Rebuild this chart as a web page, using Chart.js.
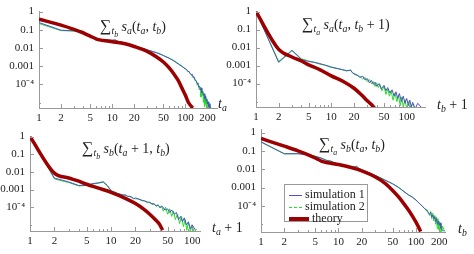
<!DOCTYPE html>
<html>
<head>
<meta charset="utf-8">
<script src="https://cdn.jsdelivr.net/npm/chart.js@4.4.1/dist/chart.umd.min.js"></script>
<style>
body{margin:0;width:474px;height:254px;background:#fff;position:relative;overflow:hidden;font-family:'Liberation Serif',serif;color:#222}
canvas{position:absolute}
.t{position:absolute;white-space:nowrap;font-size:14px;line-height:16px}
.t i{font-style:italic}
.t sub{font-size:70%;vertical-align:-0.35em;line-height:0}
.t sub sub{font-size:80%}
.sum{font-size:16px}
.legend{position:absolute;left:284px;top:184px;width:82px;height:36px;border:1px solid #999;background:#fff;font-size:12px;line-height:12px}
.row{position:absolute;left:4px;white-space:nowrap}
.row span{display:inline-block;vertical-align:middle;margin-right:3px;height:0}
</style>
</head>
<body>
<canvas id="c1" width="237" height="127" style="left:0;top:0"></canvas>
<canvas id="c2" width="259" height="127" style="left:215px;top:0"></canvas>
<canvas id="c3" width="237" height="129" style="left:0;top:125px"></canvas>
<canvas id="c4" width="259" height="136" style="left:215px;top:118px"></canvas>

<div class="t" style="left:100px;top:18px"><span class="sum">∑</span><sub><i>t</i><sub><i>b</i></sub></sub> <i>s</i><sub><i>a</i></sub>(<i>t</i><sub><i>a</i></sub>, <i>t</i><sub><i>b</i></sub>)</div>
<div class="t" style="left:302px;top:16px"><span class="sum">∑</span><sub><i>t</i><sub><i>a</i></sub></sub> <i>s</i><sub><i>a</i></sub>(<i>t</i><sub><i>a</i></sub>, <i>t</i><sub><i>b</i></sub> + 1)</div>
<div class="t" style="left:82px;top:140px"><span class="sum">∑</span><sub><i>t</i><sub><i>b</i></sub></sub> <i>s</i><sub><i>b</i></sub>(<i>t</i><sub><i>a</i></sub> + 1, <i>t</i><sub><i>b</i></sub>)</div>
<div class="t" style="left:319px;top:136px"><span class="sum">∑</span><sub><i>t</i><sub><i>a</i></sub></sub> <i>s</i><sub><i>b</i></sub>(<i>t</i><sub><i>a</i></sub>, <i>t</i><sub><i>b</i></sub>)</div>

<div class="t" style="left:218px;top:96px"><i>t</i><sub><i>a</i></sub></div>
<div class="t" style="left:437px;top:97px"><i>t</i><sub><i>b</i></sub> + 1</div>
<div class="t" style="left:212px;top:220px"><i>t</i><sub><i>a</i></sub> + 1</div>
<div class="t" style="left:458px;top:221px"><i>t</i><sub><i>b</i></sub></div>

<div class="legend">
  <div class="row" style="top:3px"><span style="width:13px;border-top:1px solid #5050c8"></span>simulation 1</div>
  <div class="row" style="top:15px"><span style="width:13px;border-top:1px dashed #22e022"></span>simulation 2</div>
  <div class="row" style="top:27px"><span style="width:20px;border-top:4px solid #9c0000"></span>theory</div>
</div>

<script>
// tick values and labels
var yTicks = [1, 0.1, 0.01, 0.001, 0.0001];
var yLabels = ['1', '0.1', '0.01', '0.001', '10\u207B\u2074'];
var yMinor = [0.00001];
var xTicksA = [1, 2, 5, 10, 20, 50, 100, 200];
var xTicksB = [1, 2, 5, 10, 20, 50, 100];
var xMinor = [3, 4, 6, 7, 8, 9, 30, 40, 60, 70, 80, 90];

// panel 1: sum_tb s_a(ta, tb)
var p1TheoryX = [1, 2, 3, 4, 5, 6, 7, 8, 10, 15, 20, 30, 40, 50, 60, 70, 80, 90, 100, 110, 126];
var p1TheoryY = [0.38, 0.18, 0.105, 0.068, 0.045, 0.032, 0.027, 0.025, 0.022, 0.017, 0.012, 0.0065, 0.0033, 0.0017, 0.0008, 0.00036, 0.00016, 0.00006, 0.000025, 0.00001, 0.000005];
var p1Sim1X = [1, 2, 3, 4, 5, 6, 7, 8, 9, 10, 11, 12, 14, 16, 18, 20, 25, 30, 35, 40, 45, 50, 60, 70, 80, 90, 100, 104, 108, 112, 116, 120, 124, 128, 132, 136, 140, 144, 148, 152, 156, 160, 164, 168, 172, 176, 180, 184, 188, 192, 196, 200, 204, 208, 212, 216, 220];
var p1Sim1Y = [0.25, 0.095, 0.088, 0.082, 0.045, 0.033, 0.029, 0.028, 0.027, 0.027, 0.028, 0.023, 0.020, 0.017, 0.015, 0.013, 0.0098, 0.0078, 0.0065, 0.0055, 0.0046, 0.0038, 0.0027, 0.0019, 0.0013, 0.00095, 0.0007, 0.00065, 0.0005, 0.00052, 0.00038, 0.00034, 0.00036, 0.00024, 0.00025, 0.00017, 0.00016, 0.00012, 0.00011, 0.00007, 0.00008, 0.00005, 0.00006, 0.000035, 0.00004, 0.000025, 0.00003, 0.000016, 0.000022, 0.000012, 0.000015, 0.000008, 0.000011, 0.000006, 0.000008, 0.000004, 0.000005];
var p1Sim2X = [1, 2, 3, 4, 5, 6, 7, 8, 9, 10, 11, 12, 14, 16, 18, 20, 25, 30, 35, 40, 45, 50, 60, 70, 80, 90, 100, 110, 120, 125, 130, 135, 140, 145, 150, 155, 160, 163, 166, 170, 173, 176, 180, 183, 186, 190, 193, 196, 200, 205, 210, 215, 220, 228];
var p1Sim2Y = [0.22, 0.09, 0.085, 0.085, 0.047, 0.034, 0.03, 0.028, 0.027, 0.026, 0.026, 0.023, 0.02, 0.017, 0.015, 0.0135, 0.01, 0.008, 0.0066, 0.0056, 0.0047, 0.0039, 0.0028, 0.002, 0.0014, 0.001, 0.00072, 0.0005, 0.00036, 0.00025, 0.00026, 0.00016, 0.00016, 0.00009, 0.00011, 0.00005, 0.00007, 0.00002, 0.00006, 0.000025, 0.00004, 0.00001, 0.00003, 0.000006, 0.000022, 0.000008, 0.000016, 0.000004, 0.000012, 0.000005, 0.000009, 0.000003, 0.000006, 0.000003];

// panel 2: sum_ta s_a(ta, tb+1)
var p2TheoryX = [1, 2, 3, 4, 5, 7, 10, 15, 20, 25, 30, 35, 38];
var p2TheoryY = [1, 0.008, 0.003, 0.0018, 0.0011, 0.0006, 0.00027, 0.00012, 0.000055, 0.000024, 0.000011, 0.000006, 0.000004];
var p2Sim1X = [1, 2, 3, 4, 5, 6, 7, 8, 10, 12, 14, 16, 18, 19, 20, 22, 24, 26, 28, 30, 32, 34, 36, 38, 40, 43, 46, 50, 53, 56, 60, 64, 68, 72, 76, 80, 85, 90, 95, 100, 105, 110, 115, 120, 130, 140, 150, 160];
var p2Sim1Y = [1, 0.0015, 0.0068, 0.0022, 0.0017, 0.0015, 0.0013, 0.0011, 0.0008, 0.00068, 0.0006, 0.00052, 0.00055, 0.0004, 0.00036, 0.0003, 0.00022, 0.00026, 0.00016, 0.00019, 0.00011, 0.00015, 0.00009, 0.00012, 0.00007, 0.0001, 0.00005, 0.00008, 0.00004, 0.00006, 0.00003, 0.000045, 0.00002, 0.000035, 0.000015, 0.000028, 0.00001, 0.00002, 0.000008, 0.000015, 0.000006, 0.000012, 0.000005, 0.000009, 0.000004, 0.000008, 0.000006, 0.000004];
var p2Sim2X = [1, 2, 3, 4, 5, 6, 7, 8, 10, 12, 14, 16, 18, 19, 20, 22, 24, 26, 28, 30, 32, 34, 36, 38, 40, 42, 44, 47, 50, 53, 56, 59, 62, 66, 70, 74, 78, 82, 86, 90, 95, 100, 105, 110, 120, 130];
var p2Sim2Y = [1, 0.0017, 0.0072, 0.0024, 0.0018, 0.0015, 0.0012, 0.0011, 0.00085, 0.0007, 0.00058, 0.0005, 0.00058, 0.00042, 0.00033, 0.00028, 0.00025, 0.00018, 0.00022, 0.00013, 0.00017, 0.0001, 0.00013, 0.00007, 0.00011, 0.00006, 0.00009, 0.00004, 0.00007, 0.000025, 0.00005, 0.00002, 0.00004, 0.000012, 0.00003, 0.00001, 0.000022, 0.000006, 0.000018, 0.000005, 0.000013, 0.000004, 0.00001, 0.000005, 0.000007, 0.000004];

// panel 3: sum_tb s_b(ta+1, tb)
var p3TheoryX = [1, 2, 3, 4, 5, 7, 10, 15, 20, 25, 30, 35, 40, 43];
var p3TheoryY = [1, 0.0085, 0.0045, 0.003, 0.002, 0.0012, 0.0007, 0.00032, 0.00016, 0.00008, 0.00004, 0.00002, 0.00001, 0.000005];
var p3Sim1X = [1, 2, 3, 4, 5, 6, 7, 8, 9, 10, 11, 12, 13, 14, 15, 16, 17, 18, 19, 20, 22, 24, 26, 28, 30, 32, 34, 36, 38, 40, 43, 46, 50, 53, 56, 60, 64, 68, 72, 76, 80, 85, 90, 95, 100, 110];
var p3Sim1Y = [1, 0.0045, 0.0027, 0.0017, 0.0018, 0.0022, 0.0024, 0.0028, 0.0017, 0.0009, 0.0007, 0.0006, 0.00055, 0.0005, 0.00048, 0.00042, 0.0004, 0.00038, 0.0003, 0.00034, 0.00028, 0.00025, 0.00022, 0.0002, 0.00018, 0.00016, 0.00015, 0.00012, 0.00013, 0.0001, 0.00011, 0.00007, 0.00008, 0.00005, 0.00007, 0.00004, 0.00005, 0.00002, 0.00003, 0.000015, 0.000025, 0.00001, 0.000015, 0.000006, 0.00001, 0.000005];
var p3Sim2X = [1, 2, 3, 4, 5, 6, 7, 8, 9, 10, 11, 12, 13, 14, 15, 16, 17, 18, 19, 20, 22, 24, 26, 28, 30, 32, 34, 36, 38, 40, 42, 44, 47, 50, 53, 56, 59, 62, 66, 70, 74, 78, 82, 86, 90, 95, 100, 105, 115];
var p3Sim2Y = [1, 0.004, 0.0025, 0.0016, 0.0017, 0.0021, 0.0023, 0.0026, 0.0016, 0.0008, 0.00075, 0.00062, 0.00052, 0.00048, 0.0005, 0.0004, 0.00042, 0.00035, 0.00032, 0.0003, 0.0003, 0.00023, 0.00024, 0.00018, 0.0002, 0.00014, 0.00016, 0.00011, 0.00014, 0.00009, 0.00012, 0.00006, 0.0001, 0.00004, 0.00008, 0.00003, 0.00006, 0.00002, 0.00004, 0.000012, 0.00003, 0.000008, 0.00002, 0.000005, 0.000014, 0.000004, 0.00001, 0.000004, 0.000006];

// panel 4: sum_ta s_b(ta, tb)
var p4TheoryX = [1, 2, 3, 4, 5, 6, 7, 8, 10, 15, 20, 30, 40, 50, 60, 70, 80, 90, 100, 110, 115];
var p4TheoryY = [0.47, 0.18, 0.1, 0.062, 0.041, 0.028, 0.023, 0.021, 0.018, 0.012, 0.0082, 0.0038, 0.0017, 0.0007, 0.0003, 0.00013, 0.00006, 0.000028, 0.000013, 0.000006, 0.000004];
var p4Sim1X = [1, 2, 3, 4, 5, 6, 7, 8, 9, 10, 12, 14, 16, 17, 18, 20, 25, 30, 35, 40, 45, 50, 60, 70, 80, 90, 100, 110, 120, 130, 140, 150, 155, 160, 165, 170, 175, 180, 185, 190, 195, 200, 205, 210, 220, 230];
var p4Sim1Y = [0.31, 0.07, 0.07, 0.06, 0.05, 0.04, 0.03, 0.027, 0.022, 0.019, 0.016, 0.014, 0.013, 0.014, 0.012, 0.009, 0.0063, 0.0045, 0.0033, 0.0025, 0.002, 0.0016, 0.001, 0.0006, 0.0004, 0.0003, 0.00021, 0.00014, 0.0001, 0.00007, 0.00005, 0.000035, 0.000045, 0.000025, 0.000032, 0.00002, 0.000026, 0.000014, 0.00002, 0.00001, 0.000015, 0.000009, 0.000012, 0.000006, 0.000005, 0.000004];
var p4Sim2X = [1, 2, 3, 4, 5, 6, 7, 8, 9, 10, 12, 14, 16, 17, 18, 20, 25, 30, 35, 40, 45, 50, 60, 70, 80, 90, 100, 110, 120, 130, 140, 150, 155, 160, 165, 170, 175, 180, 184, 188, 192, 196, 200, 205, 210, 215, 220, 230, 240];
var p4Sim2Y = [0.3, 0.068, 0.07, 0.062, 0.052, 0.041, 0.031, 0.028, 0.022, 0.019, 0.016, 0.014, 0.013, 0.015, 0.012, 0.0092, 0.0064, 0.0046, 0.0034, 0.0026, 0.002, 0.0016, 0.001, 0.00062, 0.0004, 0.0003, 0.00021, 0.00014, 0.0001, 0.00007, 0.00006, 0.00003, 0.00005, 0.00002, 0.00004, 0.000015, 0.00003, 0.00001, 0.000025, 0.000006, 0.00002, 0.000005, 0.000014, 0.000004, 0.00001, 0.000004, 0.000008, 0.000005, 0.000004];

var BLUE = '#5050c8', GREEN = '#22e022', RED = '#9c0000', AXIS = '#999';

function pts(xs, ys) {
  return xs.map(function(x, i) { return {x: x, y: ys[i]}; });
}

// mathematica-like ticks pointing into the plot
var inwardTicks = {
  id: 'inwardTicks',
  afterDraw: function(chart, args, opts) {
    var ctx = chart.ctx, a = chart.chartArea, sx = chart.scales.x, sy = chart.scales.y;
    ctx.save();
    ctx.strokeStyle = AXIS;
    ctx.lineWidth = 1;
    ctx.beginPath();
    opts.xMajor.concat(opts.xMinor).forEach(function(v) {
      if (v > sx.max) return;
      var px = Math.round(sx.getPixelForValue(v)) + 0.5;
      var len = opts.xMajor.indexOf(v) >= 0 ? 4 : 2;
      ctx.moveTo(px, a.bottom);
      ctx.lineTo(px, a.bottom - len);
    });
    yTicks.concat(yMinor).forEach(function(v) {
      if (v < sy.min || v > sy.max) return;
      var py = Math.round(sy.getPixelForValue(v)) + 0.5;
      var len = yTicks.indexOf(v) >= 0 ? 4 : 2;
      ctx.moveTo(a.left, py);
      ctx.lineTo(a.left + len, py);
    });
    ctx.stroke();
    ctx.restore();
  }
};

function makePanel(id, p) {
  var font = {family: 'Liberation Serif', size: 11};
  return new Chart(document.getElementById(id), {
    type: 'line',
    data: {
      datasets: [
        {label: 'theory', data: pts(p.tx, p.ty), borderColor: RED, borderWidth: 3.5, pointRadius: 0, cubicInterpolationMode: 'monotone', order: 0},
        {label: 'simulation 1', data: pts(p.s1x, p.s1y), borderColor: BLUE, borderWidth: 1, pointRadius: 0, tension: 0, order: 1},
        {label: 'simulation 2', data: pts(p.s2x, p.s2y), borderColor: GREEN, borderWidth: 1, pointRadius: 0, tension: 0, order: 2}
      ]
    },
    options: {
      responsive: false,
      animation: false,
      events: [],
      layout: {padding: {left: 0, top: p.top, right: p.right, bottom: 0}},
      plugins: {
        legend: {display: false},
        tooltip: {enabled: false},
        inwardTicks: {xMajor: p.xTicks, xMinor: xMinor}
      },
      scales: {
        x: {
          type: 'logarithmic', min: 1, max: p.xMax,
          grid: {display: false, drawTicks: false},
          border: {display: true, color: AXIS},
          ticks: {autoSkip: false, maxRotation: 0, padding: 4, color: '#222', font: font,
            callback: function(v, i) { return String(p.xTicks[i]); }},
          afterBuildTicks: function(s) { s.ticks = p.xTicks.map(function(v) { return {value: v}; }); },
          afterFit: function(s) { s.height = p.xh; }
        },
        y: {
          type: 'logarithmic', min: p.yMin, max: p.yMax,
          grid: {display: false, drawTicks: false},
          border: {display: true, color: AXIS},
          ticks: {autoSkip: false, padding: 5, color: '#222', font: font,
            callback: function(v, i) { return yLabels[i]; }},
          afterBuildTicks: function(s) { s.ticks = yTicks.map(function(v) { return {value: v}; }); },
          afterFit: function(s) { s.width = p.yw; }
        }
      }
    },
    plugins: [inwardTicks]
  });
}

makePanel('c1', {tx: p1TheoryX, ty: p1TheoryY, s1x: p1Sim1X, s1y: p1Sim1Y, s2x: p1Sim2X, s2y: p1Sim2Y,
  xTicks: xTicksA, xMax: 270, yMin: 5e-6, yMax: 1, yw: 39, xh: 19, top: 10, right: 20});
makePanel('c2', {tx: p2TheoryX, ty: p2TheoryY, s1x: p2Sim1X, s1y: p2Sim1Y, s2x: p2Sim2X, s2y: p2Sim2Y,
  xTicks: xTicksB, xMax: 175, yMin: 5e-6, yMax: 1, yw: 41, xh: 20, top: 10, right: 49});
makePanel('c3', {tx: p3TheoryX, ty: p3TheoryY, s1x: p3Sim1X, s1y: p3Sim1Y, s2x: p3Sim2X, s2y: p3Sim2Y,
  xTicks: xTicksB, xMax: 125, yMin: 4.5e-6, yMax: 1, yw: 30, xh: 23, top: 7, right: 37});
makePanel('c4', {tx: p4TheoryX, ty: p4TheoryY, s1x: p4Sim1X, s1y: p4Sim1Y, s2x: p4Sim2X, s2y: p4Sim2Y,
  xTicks: xTicksA, xMax: 237, yMin: 3.8e-6, yMax: 1.44, yw: 46, xh: 22, top: 8, right: 29});
</script>
</body>
</html>
